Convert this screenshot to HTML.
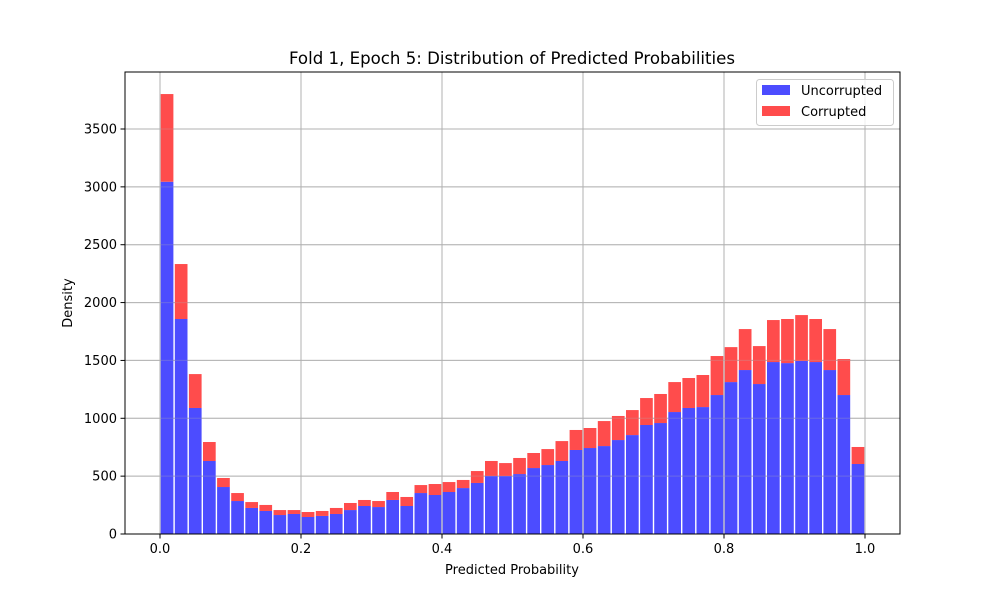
<!DOCTYPE html>
<html><head><meta charset="utf-8"><style>
body{margin:0;background:#fff;}
svg text{font-family:"DejaVu Sans","Liberation Sans",sans-serif;fill:#000;}
</style></head><body>
<svg id="chart" width="1000" height="600" viewBox="0 0 1000 600">
<rect x="0" y="0" width="1000" height="600" fill="#fff"/>
<text x="512" y="64" font-size="16.6" text-anchor="middle">Fold 1, Epoch 5: Distribution of Predicted Probabilities</text>
<g id="grid"></g>
<g id="bars"></g>
<g id="gridover" opacity="0.3"></g>
<rect x="125" y="72" width="775" height="462" fill="none" stroke="#000" stroke-width="1"/>
<g id="axes"></g>
<text x="512" y="574" font-size="13" text-anchor="middle">Predicted Probability</text>
<text x="72" y="303" font-size="13" text-anchor="middle" transform="rotate(-90 72 303)">Density</text>
<g>
<rect x="756.5" y="79.5" width="137" height="46" rx="3" fill="#fff" fill-opacity="0.8" stroke="#ccc"/>
<rect x="762" y="85" width="28" height="10" fill="#4c4cff"/>
<text x="801" y="95" font-size="13">Uncorrupted</text>
<rect x="762" y="106" width="28" height="10" fill="#ff4c4c"/>
<text x="801" y="116" font-size="13">Corrupted</text>
</g>
</svg>
<script>
const binEdgesStart = 0, binWidth = 0.02;
const uncorrupted = [3044,1858,1089,631,406,285,225,199,164,173,147,156,173,207,242,233,294,242,354,337,363,397,441,501,501,518,570,596,631,726,743,760,812,855,942,959,1054,1089,1097,1201,1313,1417,1296,1486,1477,1495,1486,1417,1201,605];
const totals = [3802,2333,1382,795,484,354,276,251,207,207,190,199,225,268,294,285,363,320,423,432,449,467,544,631,613,657,700,734,803,899,916,976,1020,1071,1175,1210,1313,1348,1374,1538,1615,1771,1624,1849,1858,1892,1858,1771,1512,752];
const corrupted = totals.map((t,i)=>t-uncorrupted[i]);
const xTicks = [0,0.2,0.4,0.6,0.8,1.0];
const xTickLabels = ["0.0","0.2","0.4","0.6","0.8","1.0"];
const yTicks = [0,500,1000,1500,2000,2500,3000,3500];

const NS="http://www.w3.org/2000/svg";
const xs = v => 160 + v*705;
const ys = v => 534 - v*(405/3500);
function mk(tag, attrs, parent){const e=document.createElementNS(NS,tag);for(const k in attrs)e.setAttribute(k,attrs[k]);parent.appendChild(e);return e;}
const grid=document.getElementById('grid'), bars=document.getElementById('bars'), axes=document.getElementById('axes'), gridover=document.getElementById('gridover');
xTicks.forEach((t,i)=>{
  [grid,gridover].forEach(p=>{
    const g=mk('line',{x1:xs(t),x2:xs(t),y1:72,y2:534,stroke:'#b0b0b0','stroke-width':1},p);
    
    
  });
  const tk=mk('line',{x1:xs(t),x2:xs(t),y1:534,y2:538.5,stroke:'#000'},axes);
  
  
  const tx=mk('text',{x:xs(t),y:553,'font-size':13,'text-anchor':'middle'},axes);
  tx.textContent=xTickLabels[i];
  
  
});
yTicks.forEach(t=>{
  [grid,gridover].forEach(p=>{
    const g=mk('line',{x1:125,x2:900,y1:ys(t),y2:ys(t),stroke:'#b0b0b0','stroke-width':1},p);
    
    
  });
  const tk=mk('line',{x1:120.5,x2:125,y1:ys(t),y2:ys(t),stroke:'#000'},axes);
  
  
  const tx=mk('text',{x:117,y:ys(t)+4.5,'font-size':13,'text-anchor':'end'},axes);
  tx.textContent=String(t);
  
  
});
uncorrupted.forEach((u,i)=>{
  const lo=binEdgesStart+i*binWidth;
  const x0=xs(lo+binWidth*0.05), w=xs(lo+binWidth*0.95)-x0;
  const b=mk('rect',{x:x0,y:ys(u),width:w,height:ys(0)-ys(u),fill:'#4c4cff'},bars);
  
  
  const c=corrupted[i];
  const r=mk('rect',{x:x0,y:ys(u+c),width:w,height:ys(u)-ys(u+c),fill:'#ff4c4c'},bars);
  
  
});
</script>
</body></html>
